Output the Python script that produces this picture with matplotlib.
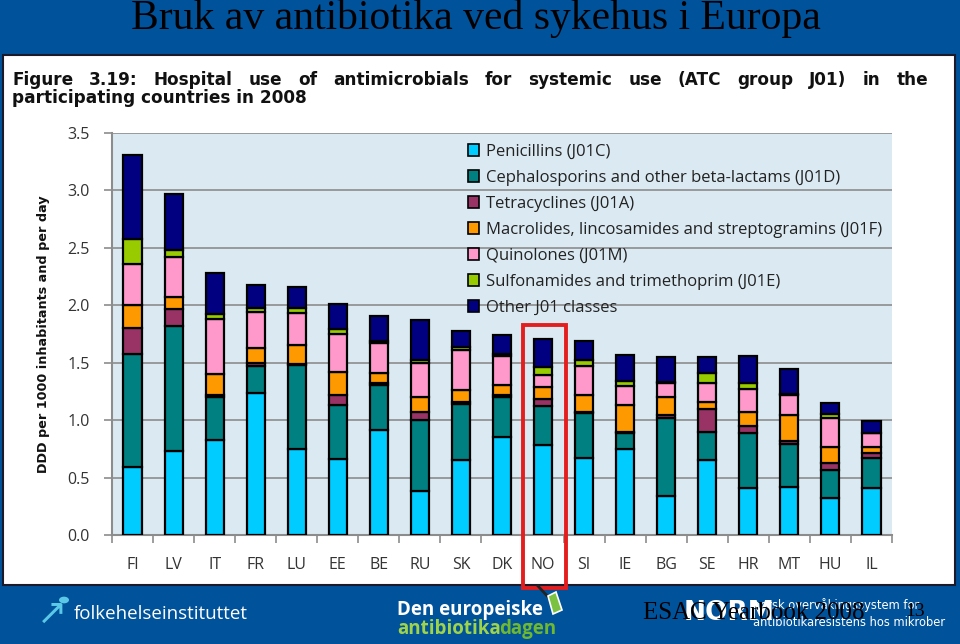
import matplotlib
matplotlib.use("Agg")
import matplotlib.pyplot as plt
from matplotlib.patches import Rectangle, Patch, Circle, Polygon
import numpy as np

countries = ["FI", "LV", "IT", "FR", "LU", "EE", "BE", "RU", "SK", "DK",
             "NO", "SI", "IE", "BG", "SE", "HR", "MT", "HU", "IL"]

penicillins = [0.59, 0.73, 0.83, 1.24, 0.75, 0.66, 0.91, 0.38, 0.65, 0.85,
               0.78, 0.67, 0.75, 0.34, 0.65, 0.41, 0.42, 0.32, 0.41]
cephalosporins = [0.99, 1.09, 0.37, 0.23, 0.73, 0.47, 0.40, 0.62, 0.49, 0.35,
                  0.34, 0.39, 0.14, 0.68, 0.25, 0.48, 0.375, 0.25, 0.26]
tetracyclines = [0.22, 0.15, 0.02, 0.03, 0.01, 0.09, 0.01, 0.07, 0.015, 0.02,
                 0.065, 0.01, 0.01, 0.025, 0.20, 0.06, 0.02, 0.06, 0.04]
macrolides = [0.20, 0.10, 0.18, 0.13, 0.165, 0.20, 0.09, 0.13, 0.11, 0.085,
              0.10, 0.15, 0.23, 0.16, 0.06, 0.12, 0.23, 0.14, 0.06]
quinolones = [0.36, 0.35, 0.48, 0.31, 0.28, 0.33, 0.26, 0.30, 0.35, 0.25,
              0.11, 0.25, 0.17, 0.12, 0.16, 0.20, 0.17, 0.25, 0.115]
sulfonamides = [0.22, 0.06, 0.04, 0.04, 0.04, 0.04, 0.02, 0.02, 0.02, 0.02,
                0.07, 0.05, 0.04, 0.005, 0.09, 0.055, 0.01, 0.035, 0.0]
other = [0.73, 0.49, 0.36, 0.20, 0.18, 0.22, 0.22, 0.35, 0.14, 0.17,
         0.24, 0.165, 0.23, 0.22, 0.14, 0.23, 0.22, 0.095, 0.105]

series_labels = ["Penicillins (J01C)",
                 "Cephalosporins and other beta-lactams (J01D)",
                 "Tetracyclines (J01A)",
                 "Macrolides, lincosamides and streptogramins (J01F)",
                 "Quinolones (J01M)",
                 "Sulfonamides and trimethoprim (J01E)",
                 "Other J01 classes"]
series_colors = ["#00ccff", "#008080", "#993366", "#ff9900", "#ff99cc", "#99cc00", "#000080"]
series = [penicillins, cephalosporins, tetracyclines, macrolides, quinolones, sulfonamides, other]

yticks = [0.0, 0.5, 1.0, 1.5, 2.0, 2.5, 3.0, 3.5]

caption_line1 = "Figure 3.19: Hospital use of antimicrobials for systemic use (ATC group J01) in the"
caption_line2 = "participating countries in 2008"

W, H = 960, 644
fig = plt.figure(figsize=(W / 100, H / 100), dpi=100)
fig.patch.set_facecolor("#00529b")

def fx(px):
    return px / W

def fy(py):
    return 1 - py / H

# white panel
fig.patches.append(Rectangle((fx(3), fy(585)), fx(952), 530 / H, transform=fig.transFigure,
                             facecolor="white", edgecolor="#1a1a2a", linewidth=1.5, zorder=-10))

# slide title
fig.text(fx(476), fy(18), "Bruk av antibiotika ved sykehus i Europa", ha="center", va="center",
         fontsize=30, family="Liberation Serif", color="black")

# figure caption, line 1 justified between x=12 and x=928
renderer = fig.canvas.get_renderer()
words = caption_line1.split(" ")
cap_kw = dict(fontsize=12.2, fontweight="bold", family="DejaVu Sans", color="#111111",
              ha="left", va="center")
tmp = [fig.text(0, 0, w, **cap_kw) for w in words]
widths = [t.get_window_extent(renderer).width for t in tmp]
for t in tmp:
    t.remove()
gap = (916 - sum(widths)) / (len(words) - 1)
xpos = 12.0
for w, wd in zip(words, widths):
    fig.text(fx(xpos), fy(80), w, **cap_kw)
    xpos += wd + gap
fig.text(fx(12), fy(98), caption_line2, **cap_kw)

ax = fig.add_axes([fx(112), fy(535), fx(892) - fx(112), (535 - 133) / H], zorder=1)
ax.set_facecolor("#dbeaf2")
x = np.arange(len(countries))
bottom = np.zeros(len(countries))
for vals, col, lab in zip(series, series_colors, series_labels):
    ax.bar(x, vals, width=0.44, bottom=bottom, color=col, edgecolor="black",
           linewidth=1.6, label=lab, zorder=3)
    bottom += np.array(vals)

ax.set_xlim(-0.5, len(countries) - 0.5)
ax.set_ylim(0, 3.5)
ax.set_yticks(yticks)
ax.set_yticklabels([f"{v:.1f}" for v in yticks])
ax.yaxis.grid(True, color="#8c8c8c", linewidth=1.2, zorder=1)
ax.set_axisbelow(True)
for s in ["top", "right"]:
    ax.spines[s].set_visible(False)
for s in ["left", "bottom"]:
    ax.spines[s].set_color("#8c8c8c")
    ax.spines[s].set_linewidth(1.5)

ax.set_xticks(x)
ax.set_xticklabels(countries)
ax.tick_params(axis="x", length=0, pad=16, labelsize=11.5, labelcolor="#333333")
ax.set_xticks(np.arange(-0.5, len(countries), 1.0), minor=True)
ax.tick_params(axis="x", which="minor", length=6, color="#8c8c8c", width=1.2)
ax.tick_params(axis="y", length=6, color="#8c8c8c", width=1.2, labelsize=11.5,
               labelcolor="#333333", pad=10)
for t in ax.get_xticklabels() + ax.get_yticklabels():
    t.set_family(["Open Sans", "DejaVu Sans"])

ax.set_ylabel("DDD per 1000 inhabitants and per day", fontsize=9.2, fontweight="bold",
              family="DejaVu Sans", color="#111111")
ax.yaxis.set_label_coords(-0.08, 0.5)

handles = [Patch(facecolor=c, edgecolor="black", linewidth=1.2) for c in series_colors]
leg = ax.legend(handles, series_labels, loc="upper left", bbox_to_anchor=(0.442, 1.0),
                frameon=False, handlelength=0.7, handleheight=0.7,
                handletextpad=0.4, labelspacing=0.6, borderaxespad=0.25,
                prop={"family": "Open Sans", "size": 12})
for t in leg.get_texts():
    t.set_color("#222222")

# red highlight rectangle around NO
fig.patches.append(Rectangle((fx(523), fy(588)), fx(43), (588 - 325) / H, transform=fig.transFigure,
                             facecolor="none", edgecolor="#e41e1e", linewidth=2.8, zorder=10))

# footer
fig.patches.append(Circle((fx(64), fy(600)), 5 / W, transform=fig.transFigure,
                          facecolor="#5bc8e8", edgecolor="none"))
fig.text(fx(52), fy(614), "\u2197", fontsize=26, color="#5bc8e8", ha="center", va="center",
         family="DejaVu Sans")
fig.text(fx(74), fy(614), "folkehelseinstituttet", fontsize=13.5, color="white", ha="left",
         va="center", family="Open Sans")
fig.text(fx(397), fy(610), "Den europeiske", fontsize=13.5, color="white", ha="left",
         va="center", fontweight="bold", family="Open Sans")
fig.text(fx(397), fy(629), "antibiotika", fontsize=13.5, color="#9fd44a", ha="left",
         va="center", fontweight="bold", family="Open Sans")
fig.text(fx(499), fy(629), "dagen", fontsize=13.5, color="#6fb82f", ha="left",
         va="center", fontweight="bold", family="Open Sans")
# small pill icon next to the antibiotic-day logo
fig.patches.append(Polygon([(fx(548), fy(596)), (fx(556), fy(592)), (fx(562), fy(610)),
                            (fx(553), fy(614))], closed=True, transform=fig.transFigure,
                           facecolor="#7cc242", edgecolor="white", linewidth=1.2, zorder=11))
fig.lines.append(plt.Line2D([fx(538), fx(549)], [fy(586), fy(598)], transform=fig.transFigure,
                            color="#222222", linewidth=2, zorder=11))
fig.text(fx(684), fy(613), "NORM", fontsize=19, color="white", ha="left", va="center",
         fontweight="bold", family="DejaVu Sans")
fig.text(fx(753), fy(605), "norsk overvåkingssystem for", fontsize=8.3, color="white",
         ha="left", va="center", family="DejaVu Sans")
fig.text(fx(753), fy(622), "antibiotikaresistens hos mikrober", fontsize=8.3, color="white",
         ha="left", va="center", family="DejaVu Sans")
fig.text(fx(643), fy(613), "ESAC Yearbook 2008", fontsize=18, color="black", ha="left",
         va="center", family="Liberation Serif")
fig.text(fx(905), fy(611), "13", fontsize=14, color="black", ha="left", va="center",
         family="Liberation Serif")

fig.savefig("out.png", dpi=100, facecolor=fig.get_facecolor())
